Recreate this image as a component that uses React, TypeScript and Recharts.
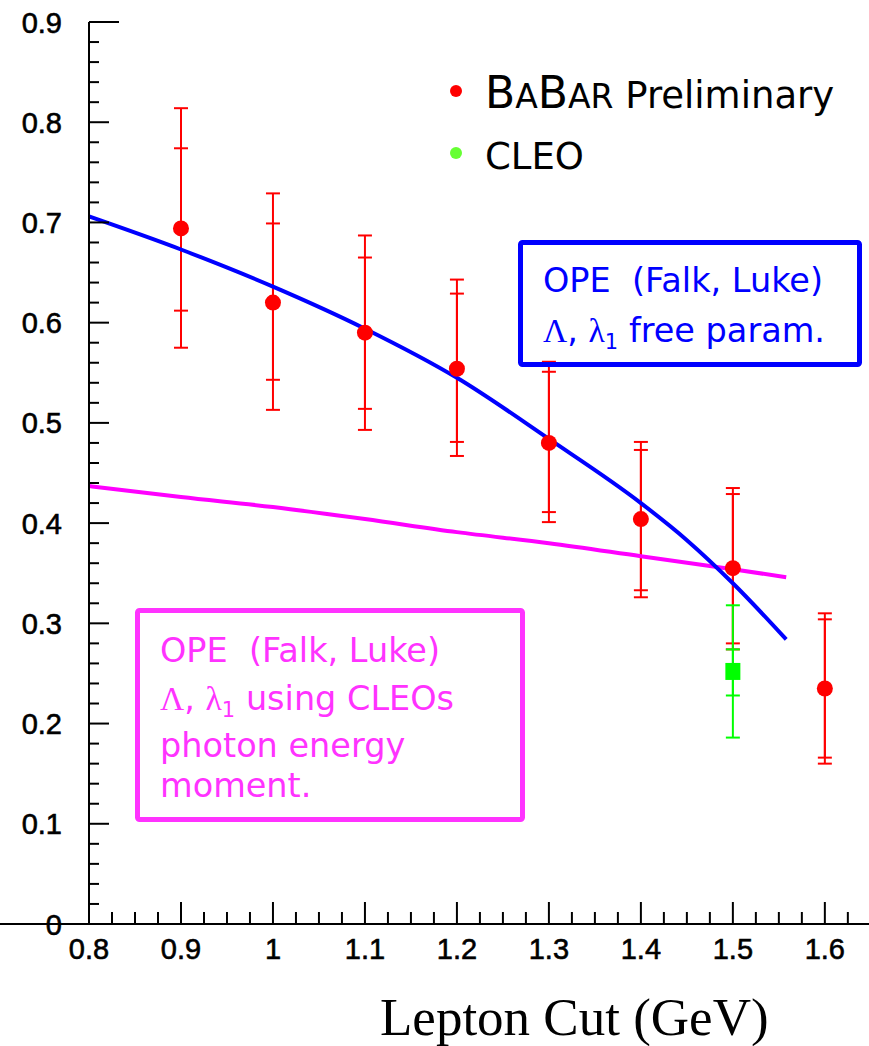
import React from 'react';
import {
  ComposedChart,
  Scatter,
  Line,
  XAxis,
  YAxis,
  ErrorBar,
  ReferenceLine,
  Legend,
  Label,
} from 'recharts';

// ---------- data ----------
const babarX = [0.9, 1.0, 1.1, 1.2, 1.3, 1.4, 1.5, 1.6];
const babarY = [0.694, 0.62, 0.59, 0.554, 0.48, 0.404, 0.355, 0.235];
const babarStatLow = [0.612, 0.543, 0.514, 0.481, 0.411, 0.333, 0.28, 0.166];
const babarStatHigh = [0.774, 0.699, 0.665, 0.629, 0.551, 0.473, 0.429, 0.304];
const babarTotLow = [0.575, 0.513, 0.493, 0.467, 0.401, 0.326, 0.274, 0.16];
const babarTotHigh = [0.814, 0.729, 0.687, 0.643, 0.561, 0.481, 0.435, 0.31];

const cleoX = [1.5];
const cleoY = [0.252];
const cleoStatLow = [0.228];
const cleoStatHigh = [0.274];
const cleoTotLow = [0.186];
const cleoTotHigh = [0.318];

const freeFitX = [0.8, 0.9, 1.0, 1.1, 1.2, 1.3, 1.4, 1.45, 1.5, 1.558];
const freeFitY = [0.706, 0.673, 0.636, 0.594, 0.545, 0.484, 0.42, 0.383, 0.34, 0.284];

const cleoFitX = [0.8, 0.9, 1.0, 1.1, 1.2, 1.3, 1.4, 1.5, 1.558];
const cleoFitY = [0.437, 0.426, 0.416, 0.404, 0.391, 0.38, 0.367, 0.354, 0.346];

const xMajorTicks = [0.8, 0.9, 1, 1.1, 1.2, 1.3, 1.4, 1.5, 1.6];
const xMajorLabels = ['0.8', '0.9', '1', '1.1', '1.2', '1.3', '1.4', '1.5', '1.6'];
const yMajorTicks = [0, 0.1, 0.2, 0.3, 0.4, 0.5, 0.6, 0.7, 0.8, 0.9];
const yMajorLabels = ['0', '0.1', '0.2', '0.3', '0.4', '0.5', '0.6', '0.7', '0.8', '0.9'];

const X_DOMAIN: [number, number] = [0.8, 1.648];
const Y_DOMAIN: [number, number] = [0, 0.9];
const X_MINOR_STEP = 0.025;
const Y_MINOR_STEP = 0.02;

// ---------- derived tables ----------
const babarData = babarX.map((x, i) => ({
  x,
  y: babarY[i],
  stat: [babarY[i] - babarStatLow[i], babarStatHigh[i] - babarY[i]],
  tot: [babarY[i] - babarTotLow[i], babarTotHigh[i] - babarY[i]],
}));
const cleoData = cleoX.map((x, i) => ({
  x,
  y: cleoY[i],
  stat: [cleoY[i] - cleoStatLow[i], cleoStatHigh[i] - cleoY[i]],
  tot: [cleoY[i] - cleoTotLow[i], cleoTotHigh[i] - cleoY[i]],
}));
const freeFitData = freeFitX.map((x, i) => ({ x, y: freeFitY[i] }));
const cleoFitData = cleoFitX.map((x, i) => ({ x, y: cleoFitY[i] }));

const buildTicks = (from: number, to: number, step: number) => {
  const out: number[] = [];
  const n = Math.round((to - from) / step);
  for (let i = 0; i <= n; i++) out.push(Math.round((from + i * step) * 1000) / 1000);
  return out;
};
const xTicks = buildTicks(0.8, 1.625, X_MINOR_STEP);
const yTicks = buildTicks(0, 0.9, Y_MINOR_STEP);

const labelFor = (v: number, majors: number[], labels: string[]) => {
  const idx = majors.findIndex((m) => Math.abs(m - v) < 1e-6);
  return idx >= 0 ? labels[idx] : null;
};

const TICK_FONT = '"Liberation Sans", Arial, sans-serif';
const BOX_FONT = '"DejaVu Sans", Verdana, sans-serif';
const SERIF = '"Liberation Serif", "Times New Roman", serif';

const XTick = (props: any) => {
  const { x, y, payload } = props;
  const lab = labelFor(payload.value, xMajorTicks, xMajorLabels);
  const len = lab !== null ? 22 : 12;
  return (
    <g>
      <line x1={x} x2={x} y1={y} y2={y - len} stroke="#000" strokeWidth={2} />
      {lab !== null && (
        <text
          x={x}
          y={y + 35}
          textAnchor="middle"
          fontFamily={TICK_FONT}
          fontSize={29}
          fill="#000"
          stroke="#000"
          strokeWidth={0.6}
        >
          {lab}
        </text>
      )}
    </g>
  );
};

const YTick = (props: any) => {
  const { x, y, payload } = props;
  const lab = labelFor(payload.value, yMajorTicks, yMajorLabels);
  const len = lab !== null ? (payload.value > 0.89 ? 30 : 20) : 10;
  return (
    <g>
      <line x1={x} x2={x + len} y1={y} y2={y} stroke="#000" strokeWidth={2} />
      {lab !== null && (
        <text
          x={x - 27}
          y={y + 10.5}
          textAnchor="end"
          fontFamily={TICK_FONT}
          fontSize={29}
          fill="#000"
          stroke="#000"
          strokeWidth={0.6}
        >
          {lab}
        </text>
      )}
    </g>
  );
};

const RedDot = (props: any) => {
  const { cx, cy } = props;
  return <circle cx={cx} cy={cy} r={8} fill="#ff0000" />;
};
const GreenSquare = (props: any) => {
  const { cx, cy } = props;
  return <rect x={cx - 7.5} y={cy - 8.5} width={15} height={17} fill="#00ff00" />;
};

const LegendContent = () => (
  <svg width={429} height={130} style={{ display: 'block' }}>
    <circle cx={16} cy={31} r={6} fill="#ff0000" />
    <text x={45} y={48} fontFamily={BOX_FONT} fill="#000">
      <tspan fontSize={44}>B</tspan>
      <tspan fontSize={33}>A</tspan>
      <tspan fontSize={44}>B</tspan>
      <tspan fontSize={33}>AR</tspan>
      <tspan fontSize={37}> Preliminary</tspan>
    </text>
    <circle cx={16} cy={93} r={6} fill="#66ff33" />
    <text x={45} y={109} fontFamily={BOX_FONT} fontSize={37} fill="#000">
      CLEO
    </text>
  </svg>
);

const BLUE = '#0000ff';
const MAGENTA = '#ff33ff';

export default function App() {
  return (
    <div style={{ position: 'absolute', left: 0, top: 0, width: 869, height: 1046, background: '#fff' }}>
      <ComposedChart width={869} height={1046} margin={{ top: 22, right: 0, bottom: 0, left: 0 }}>
        <XAxis
          type="number"
          dataKey="x"
          domain={X_DOMAIN}
          ticks={xTicks}
          interval={0}
          allowDataOverflow
          height={122}
          tickSize={0}
          tickMargin={0}
          tickLine={false}
          tick={(p: any) => <XTick {...p} />}
          axisLine={{ stroke: '#000', strokeWidth: 2 }}
        >
          <Label
            content={() => (
              <text x={380} y={1035} fontFamily={SERIF} fontSize={53} fill="#000">
                Lepton Cut (GeV)
              </text>
            )}
          />
        </XAxis>
        <YAxis
          type="number"
          dataKey="y"
          domain={Y_DOMAIN}
          ticks={yTicks}
          interval={0}
          allowDataOverflow
          width={89}
          tickSize={0}
          tickMargin={0}
          tickLine={false}
          tick={(p: any) => <YTick {...p} />}
          axisLine={{ stroke: '#000', strokeWidth: 2 }}
        />
        <ReferenceLine
          segment={[
            { x: 0.7, y: 0 },
            { x: 0.8, y: 0 },
          ]}
          ifOverflow="visible"
          stroke="#000"
          strokeWidth={2}
        />
        <Legend
          layout="horizontal"
          verticalAlign="middle"
          align="center"
          wrapperStyle={{ left: 440, top: 60, width: 429, height: 130 }}
          content={() => <LegendContent />}
        />
        <Scatter name="BaBar Preliminary" data={babarData} dataKey="y" shape={<RedDot />} isAnimationActive={false}>
          <ErrorBar dataKey="tot" direction="y" width={7} stroke="#ff0000" strokeWidth={2} />
          <ErrorBar dataKey="stat" direction="y" width={7} stroke="#ff0000" strokeWidth={2} />
        </Scatter>
        <Scatter name="CLEO" data={cleoData} dataKey="y" shape={<GreenSquare />} isAnimationActive={false}>
          <ErrorBar dataKey="tot" direction="y" width={7} stroke="#00ff00" strokeWidth={2} />
          <ErrorBar dataKey="stat" direction="y" width={7} stroke="#00ff00" strokeWidth={2} />
        </Scatter>
        <Line
          data={cleoFitData}
          dataKey="y"
          type="monotone"
          stroke="#ff00ff"
          strokeWidth={4}
          dot={false}
          activeDot={false}
          isAnimationActive={false}
        />
        <Line
          data={freeFitData}
          dataKey="y"
          type="monotone"
          stroke={BLUE}
          strokeWidth={4}
          dot={false}
          activeDot={false}
          isAnimationActive={false}
        />
      </ComposedChart>
      <svg
        width={869}
        height={1046}
        style={{ position: 'absolute', left: 0, top: 0, pointerEvents: 'none' }}
      >
        <rect x={520.5} y={242.5} width={339} height={122} rx={2} fill="none" stroke={BLUE} strokeWidth={5} />
        <text x={543} y={292} fontFamily={BOX_FONT} fontSize={33.5} fill={BLUE} style={{ whiteSpace: 'pre' }}>
          {'OPE  (Falk, Luke)'}
        </text>
        <text x={543} y={342} fontFamily={BOX_FONT} fontSize={33.5} fill={BLUE} style={{ whiteSpace: 'pre' }}>
          <tspan fontFamily={SERIF}>Λ</tspan>
          <tspan>{', '}</tspan>
          <tspan fontFamily={SERIF}>λ</tspan>
          <tspan fontSize={21} dy={7}>1</tspan>
          <tspan dy={-7}>{' free param.'}</tspan>
        </text>

        <rect x={137.5} y={610.5} width={385} height={209} rx={2} fill="none" stroke={MAGENTA} strokeWidth={5} />
        <text x={160} y={662} fontFamily={BOX_FONT} fontSize={33.5} fill={MAGENTA} style={{ whiteSpace: 'pre' }}>
          {'OPE  (Falk, Luke)'}
        </text>
        <text x={160} y={710} fontFamily={BOX_FONT} fontSize={33.5} fill={MAGENTA} style={{ whiteSpace: 'pre' }}>
          <tspan fontFamily={SERIF}>Λ</tspan>
          <tspan>{', '}</tspan>
          <tspan fontFamily={SERIF}>λ</tspan>
          <tspan fontSize={21} dy={7}>1</tspan>
          <tspan dy={-7}>{' using CLEOs'}</tspan>
        </text>
        <text x={160} y={757} fontFamily={BOX_FONT} fontSize={33.5} fill={MAGENTA}>
          photon energy
        </text>
        <text x={160} y={797} fontFamily={BOX_FONT} fontSize={33.5} fill={MAGENTA}>
          moment.
        </text>
      </svg>
    </div>
  );
}
